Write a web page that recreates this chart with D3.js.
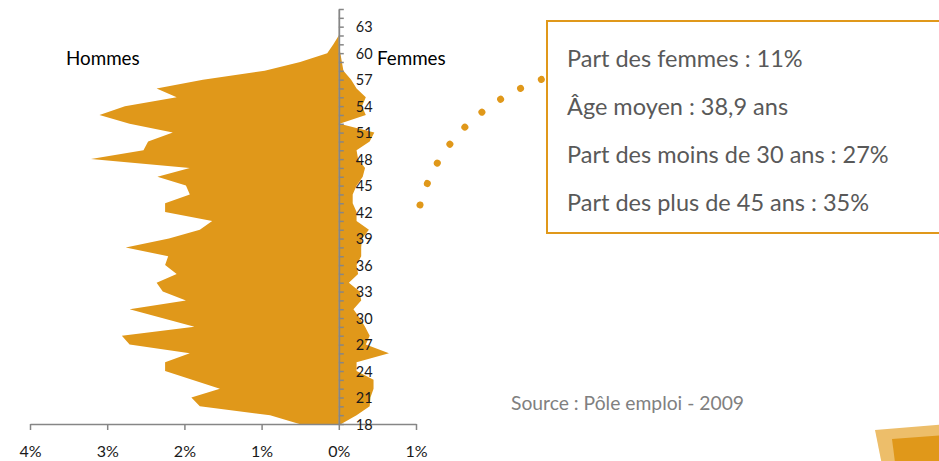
<!DOCTYPE html>
<html>
<head>
<meta charset="utf-8">
<script src="https://cdn.jsdelivr.net/npm/d3@7/dist/d3.min.js"></script>
<style>
  html, body { margin: 0; padding: 0; background: #ffffff; }
  svg { display: block; font-family: Lato, "Open Sans", sans-serif; }
</style>
</head>
<body>
<svg id="chart" width="939" height="461"></svg>
<script>
// ---- Data (share of job seekers by age, %) ----
const ages = [18,19,20,21,22,23,24,25,26,27,28,29,30,31,32,33,34,35,36,37,38,39,40,
              41,42,43,44,45,46,47,48,49,50,51,52,53,54,55,56,57,58,59,60,61,62];
const hommes = [0.51,0.89,1.80,1.91,1.54,1.90,2.25,2.25,1.93,2.71,2.81,1.87,2.29,2.71,1.98,2.28,2.36,2.10,2.25,2.21,2.76,2.20,1.80,
                1.64,2.25,2.25,1.93,1.98,2.35,1.93,3.21,2.53,2.47,2.15,2.71,3.10,2.77,2.10,2.36,1.76,0.96,0.50,0.15,0.07,0.00];
const femmes = [0.03,0.23,0.40,0.41,0.45,0.45,0.23,0.23,0.65,0.35,0.40,0.34,0.27,0.19,0.29,0.27,0.13,0.25,0.23,0.29,0.29,0.30,0.39,
                0.23,0.23,0.18,0.18,0.23,0.31,0.34,0.25,0.23,0.40,0.46,0.01,0.35,0.30,0.35,0.23,0.16,0.06,0.04,0.02,0.00,0.00];
const xTicks = [-4,-3,-2,-1,0,1];
const yLabelAges = [18,21,24,27,30,33,36,39,42,45,48,51,54,57,60,63];
const infoLines = ["Part des femmes : 11%", "Âge moyen : 38,9 ans",
                   "Part des moins de 30 ans : 27%", "Part des plus de 45 ans : 35%"];
const sourceText = "Source : Pôle emploi - 2009";

const ORANGE = "#E0981A";
const AXIS = "#868686";

const svg = d3.select("#chart");

const x = d3.scaleLinear().domain([-4, 1]).range([30, 416]);
const y = d3.scaleLinear().domain([18, 65]).range([424, 9]);

const rows = ages.map((a, i) => ({age: a, h: hommes[i], f: femmes[i]}));

// Men (left) area
svg.append("path")
  .datum(rows)
  .attr("fill", ORANGE)
  .attr("d", d3.area()
    .y(d => y(d.age))
    .x0(x(0))
    .x1(d => x(-d.h)));

// Women (right) area
svg.append("path")
  .datum(rows)
  .attr("fill", ORANGE)
  .attr("d", d3.area()
    .y(d => y(d.age))
    .x0(x(0))
    .x1(d => x(d.f)));

// X axis
const xAxis = svg.append("g").attr("transform", `translate(0,${y(18)})`)
  .call(d3.axisBottom(x).tickValues(xTicks).tickSize(6).tickSizeOuter(0)
    .tickFormat(d => Math.abs(d) + "%"));
xAxis.select(".domain").attr("stroke", AXIS).attr("stroke-width", 1.5);
xAxis.selectAll(".tick line").attr("stroke", AXIS).attr("stroke-width", 1.5);
xAxis.selectAll(".tick text").attr("fill", "#1a1a1a").attr("font-size", 16)
  .attr("font-family", "Lato, sans-serif").attr("y", 0).attr("dy", 33);

// Y axis (age) at x=0
const yAxis = svg.append("g").attr("transform", `translate(${x(0)},0)`)
  .call(d3.axisRight(y).tickValues(d3.range(18, 66)).tickSize(5).tickSizeOuter(0)
    .tickFormat(d => yLabelAges.includes(d) ? d : ""));
yAxis.select(".domain").attr("stroke", AXIS).attr("stroke-width", 1.8);
yAxis.selectAll(".tick line").attr("stroke", AXIS).attr("stroke-width", 1.5);
yAxis.selectAll(".tick text").attr("fill", "#1a1a1a").attr("font-size", 14.5)
  .attr("font-family", "Lato, sans-serif").attr("x", 17).attr("dy", "0.36em");

// Series titles
svg.append("text").attr("x", 66).attr("y", 65).attr("font-size", 18.8)
  .attr("fill", "#000").text("Hommes");
svg.append("text").attr("x", 377).attr("y", 65).attr("font-size", 18.8)
  .attr("fill", "#000").text("Femmes");

// Dotted connector
svg.append("path")
  .attr("d", "M420,205 Q445,115 545,78")
  .attr("fill", "none")
  .attr("stroke", ORANGE)
  .attr("stroke-width", 7)
  .attr("stroke-linecap", "round")
  .attr("stroke-dasharray", "0.01 22.7");

// Info box
svg.append("rect").attr("x", 547).attr("y", 21).attr("width", 420).attr("height", 212)
  .attr("fill", "#fff").attr("stroke", ORANGE).attr("stroke-width", 2);
svg.append("g").selectAll("text").data(infoLines).join("text")
  .attr("x", 567)
  .attr("y", (d, i) => 67 + i * 48)
  .attr("font-size", 23.5)
  .attr("fill", "#595959")
  .text(d => d);

// Source
svg.append("text").attr("x", 511).attr("y", 410).attr("font-size", 19.3)
  .attr("fill", "#808080").text(sourceText);

// Decorative corner shapes
svg.append("polygon").attr("points", "875,430 960,423 960,470 883,470")
  .attr("fill", "#EDBE6A");
svg.append("polygon").attr("points", "892,439 960,434 960,470 896,470")
  .attr("fill", ORANGE);
</script>
</body>
</html>
